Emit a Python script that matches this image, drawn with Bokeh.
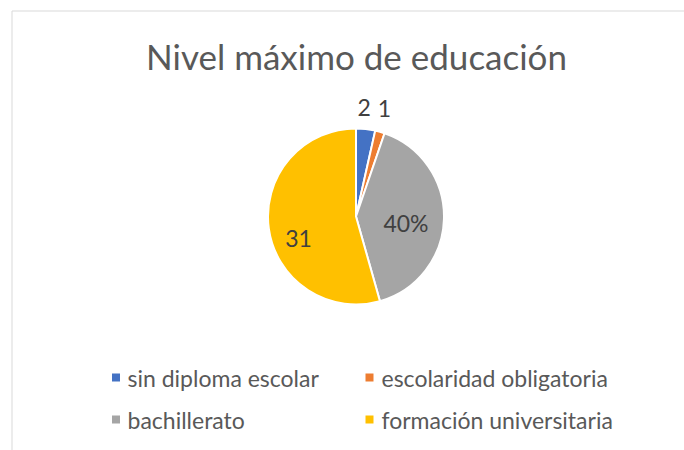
import math
from bokeh.plotting import figure
from bokeh.models import Range1d, ColumnDataSource
from bokeh.core.properties import value
from bokeh.embed import file_html
from bokeh.resources import INLINE

# ---- data ----
title = "Nivel máximo de educación"
categories = ["sin diploma escolar", "escolaridad obligatoria", "bachillerato", "formación universitaria"]
counts = [2, 1, 23, 31]
label_kinds = ["value", "value", "percent", "value"]
colors = ["#4472C4", "#ED7D31", "#A5A5A5", "#FFC000"]

# ---- layout / style ----
FONT = "Lato"
TXT = "#595959"
W, H = 684, 450
CX, CY, R = 355.5, H - 216, 88
label_radius = [110, 112, 50, 60]
label_dx = [-4, -2, 0, 2]
label_dy = [0, 0, 5, 14]

p = figure(width=W, height=H, x_range=Range1d(0, W), y_range=Range1d(0, H),
           output_backend="svg", toolbar_location=None, min_border=0)
p.axis.visible = False
p.grid.visible = False
p.outline_line_color = None
p.background_fill_color = "white"
p.border_fill_color = "white"

# chart area border
p.quad(left=11.5, right=W + 10, top=H - 10.5, bottom=-10, fill_color=None,
       line_color="#D9D9D9", line_width=1)

# title
p.text(x=[356], y=[H - 55], text=[title], text_font=value(FONT), text_font_size="35px",
       text_color=TXT, text_align="center", text_baseline="middle")

# pie
total = sum(counts)
starts, ends, mids = [], [], []
cum = 0
for c in counts:
    a0 = cum / total * 2 * math.pi
    cum += c
    a1 = cum / total * 2 * math.pi
    starts.append(math.pi / 2 - a1)
    ends.append(math.pi / 2 - a0)
    mids.append((a0 + a1) / 2)

src = ColumnDataSource(dict(start=starts, end=ends, color=colors))
p.wedge(x=CX, y=CY, radius=R, start_angle="start", end_angle="end", fill_color="color",
        line_color="white", line_width=2, source=src)

# labels
lx, ly, lt = [], [], []
for i, c in enumerate(counts):
    m = mids[i]
    lx.append(CX + label_radius[i] * math.sin(m) + label_dx[i])
    ly.append(CY + label_radius[i] * math.cos(m) - label_dy[i])
    if label_kinds[i] == "percent":
        lt.append(f"{round(100 * c / total)}%")
    else:
        lt.append(str(c))
p.text(x=lx, y=ly, text=lt, text_font=value(FONT), text_font_size="23px", text_color="#404040",
       text_align="center", text_baseline="middle")

# legend (2 columns)
col_sq = [115.5, 369]
col_tx = [127, 381]
row_y = [H - 377, H - 419]
sx, sy, tx, ty = [], [], [], []
for i, cat in enumerate(categories):
    r, col = divmod(i, 2)
    sx.append(col_sq[col]); sy.append(row_y[r])
    tx.append(col_tx[col]); ty.append(row_y[r])
p.scatter(x=sx, y=sy, marker="square", size=8, fill_color=colors, line_color=None)
p.text(x=tx, y=ty, text=categories, text_font=value(FONT), text_font_size="23px",
       text_color=TXT, text_align="left", text_baseline="middle")

open("out.html", "w").write(file_html(p, INLINE))
